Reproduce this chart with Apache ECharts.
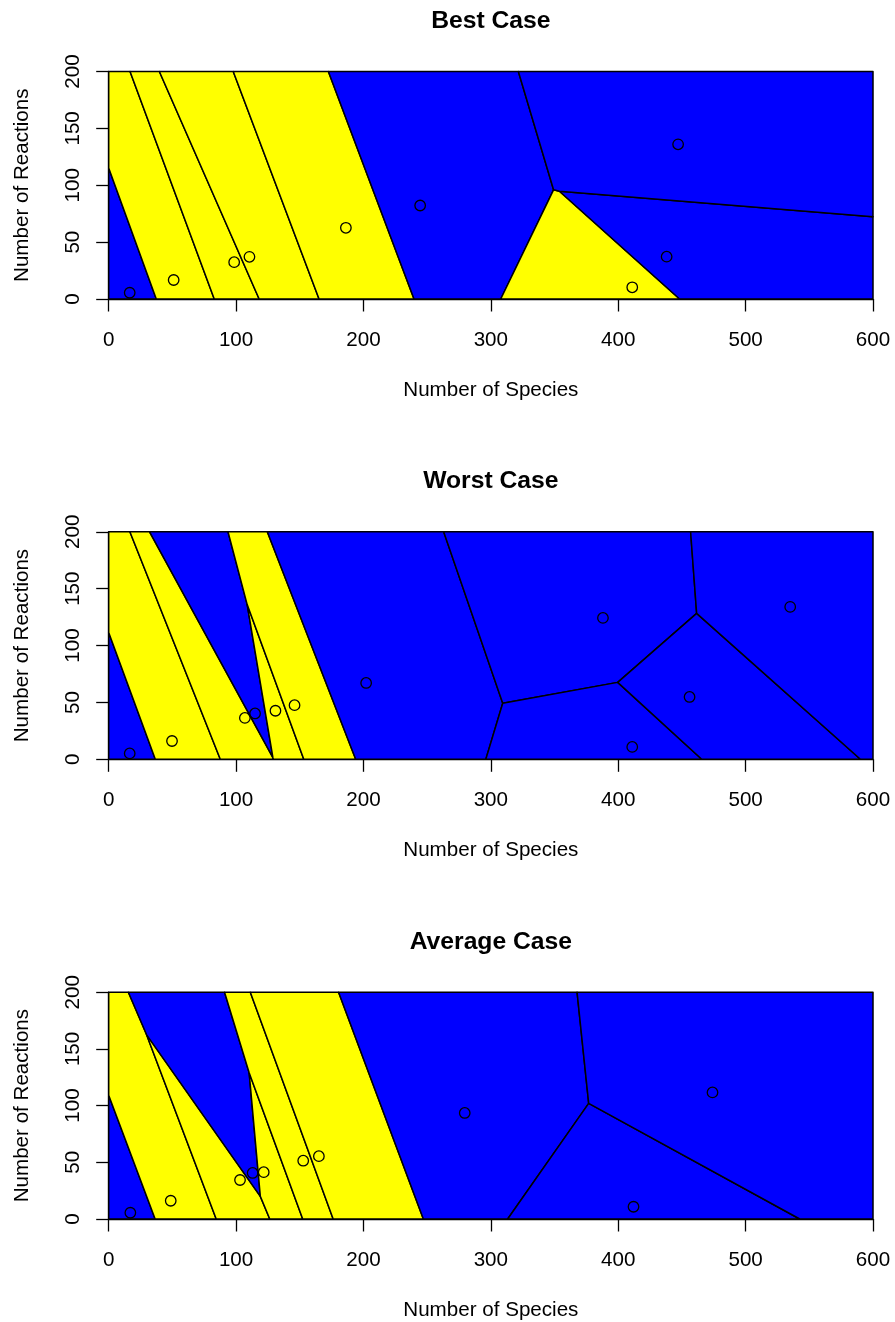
<!DOCTYPE html>
<html>
<head>
<meta charset="utf-8">
<script src="https://cdn.jsdelivr.net/npm/echarts@6/dist/echarts.min.js"></script>
<style>
  html, body { margin: 0; padding: 0; background: #ffffff; }
  #chart { width: 895px; height: 1322px; }
</style>
</head>
<body>
<div id="chart"></div>
<script>
// Titles and axis names
const panelTitles = ['Best Case', 'Worst Case', 'Average Case'];
const xTitle = 'Number of Species';
const yTitle = 'Number of Reactions';

// Axis ranges and tick steps
const speciesRange = [0, 600];
const speciesStep = 100;
const reactionsRange = [0, 200];
const reactionsStep = 50;

// Best case: model sizes and region group (1 = yellow, 0 = blue)
const bestSpecies   = [16.5, 51, 98.5, 110.5, 186.2, 244.5, 411, 438, 447];
const bestReactions = [5.5, 16.7, 32.4, 37.1, 62.6, 82.2, 10.3, 37.2, 136];
const bestGroup     = [0, 1, 1, 1, 1, 0, 1, 0, 0];

// Worst case
const worstSpecies   = [16.5, 49.7, 106.9, 114.9, 130.9, 145.9, 202.1, 388, 411, 456, 535];
const worstReactions = [5.2, 16.1, 36.4, 40.3, 42.7, 47.6, 67.1, 124.3, 10.9, 54.8, 134];
const worstGroup     = [0, 1, 1, 0, 1, 1, 0, 0, 0, 0, 0];

// Average case
const avgSpecies   = [17, 48.7, 103.1, 113, 121.7, 152.7, 165, 279.5, 412, 474];
const avgReactions = [5.5, 16.1, 34.4, 40.6, 41.3, 51.4, 55.4, 93.5, 10.8, 111.6];
const avgGroup     = [0, 1, 1, 0, 1, 1, 1, 0, 0, 0];

const groupColors = ['#0000FF', '#FFFF00'];

const panels = [
  { xs: bestSpecies,  ys: bestReactions,  group: bestGroup },
  { xs: worstSpecies, ys: worstReactions, group: worstGroup },
  { xs: avgSpecies,   ys: avgReactions,   group: avgGroup }
];

// Keep the part of a polygon where a*x + b*y <= c (Sutherland-Hodgman step)
function clipHalfPlane(poly, a, b, c) {
  const out = [];
  const n = poly.length;
  for (let k = 0; k < n; k++) {
    const P = poly[k], Q = poly[(k + 1) % n];
    const fP = a * P[0] + b * P[1] - c;
    const fQ = a * Q[0] + b * Q[1] - c;
    if (fP <= 0) out.push(P);
    if ((fP < 0 && fQ > 0) || (fP > 0 && fQ < 0)) {
      const t = fP / (fP - fQ);
      out.push([P[0] + t * (Q[0] - P[0]), P[1] + t * (Q[1] - P[1])]);
    }
  }
  return out;
}

// Voronoi cell of every site, clipped to the plotting window
function voronoiCells(xs, ys) {
  const box = [
    [speciesRange[0], reactionsRange[0]], [speciesRange[1], reactionsRange[0]],
    [speciesRange[1], reactionsRange[1]], [speciesRange[0], reactionsRange[1]]
  ];
  return xs.map((xi, i) => {
    let poly = box.slice();
    const yi = ys[i];
    xs.forEach((xj, j) => {
      if (j === i) return;
      const yj = ys[j];
      const a = xj - xi, b = yj - yi;
      const c = (xj * xj + yj * yj - xi * xi - yi * yi) / 2;
      poly = clipHalfPlane(poly, a, b, c);
    });
    return poly;
  });
}

// Page layout of the three plots (pixels)
const plotLeft = 108.7;
const plotWidth = 764.3;
const plotHeight = 227.5;
const plotTops = [71.5, 531.8, 992.2];
const titleOffset = 63;

const fontFamily = '"Liberation Sans", Arial, Helvetica, sans-serif';
const labelSize = 20.6;
const axisLine = { show: true, lineStyle: { color: '#000', width: 1.3 } };
const axisTick = { show: true, inside: false, length: 12.5, lineStyle: { color: '#000', width: 1.3 } };

const option = {
  animation: false,
  backgroundColor: '#ffffff',
  title: panelTitles.map((t, i) => ({
    text: t,
    left: plotLeft + plotWidth / 2,
    textAlign: 'center',
    top: plotTops[i] - titleOffset,
    padding: 0,
    textStyle: { fontFamily, fontSize: 24.7, fontWeight: 'bold', color: '#000' }
  })),
  grid: plotTops.map(top => ({
    left: plotLeft, top, width: plotWidth, height: plotHeight,
    show: false, containLabel: false
  })),
  xAxis: plotTops.map((_, i) => ({
    type: 'value', gridIndex: i,
    min: speciesRange[0], max: speciesRange[1], interval: speciesStep,
    splitLine: { show: false },
    axisLine, axisTick,
    axisLabel: { fontFamily, fontSize: labelSize, color: '#000', margin: 31 },
    name: xTitle, nameLocation: 'middle', nameGap: 81,
    nameTextStyle: { fontFamily, fontSize: labelSize, color: '#000' }
  })),
  yAxis: plotTops.map((_, i) => ({
    type: 'value', gridIndex: i,
    min: reactionsRange[0], max: reactionsRange[1], interval: reactionsStep,
    splitLine: { show: false },
    axisLine, axisTick,
    axisLabel: { fontFamily, fontSize: labelSize, color: '#000', rotate: 90, margin: 25 },
    name: yTitle, nameLocation: 'middle', nameGap: 76, nameRotate: 90,
    nameTextStyle: { fontFamily, fontSize: labelSize, color: '#000' }
  })),
  series: []
};

panels.forEach((p, i) => {
  const cells = voronoiCells(p.xs, p.ys);
  const sites = p.xs.map((x, k) => [x, p.ys[k]]);
  option.series.push({
    type: 'custom',
    xAxisIndex: i, yAxisIndex: i,
    silent: true,
    data: sites,
    encode: { x: 0, y: 1 },
    renderItem: (params, api) => {
      const k = params.dataIndex;
      const pts = cells[k].map(v => api.coord(v));
      return {
        type: 'polygon',
        shape: { points: pts },
        style: { fill: groupColors[p.group[k]], stroke: '#000', lineWidth: 1.5, lineJoin: 'round' }
      };
    },
    z: 2
  });
  option.series.push({
    type: 'scatter',
    xAxisIndex: i, yAxisIndex: i,
    silent: true,
    data: sites,
    symbol: 'circle',
    symbolSize: 10.5,
    itemStyle: { color: 'rgba(0,0,0,0)', borderColor: '#000', borderWidth: 1.3, opacity: 1 },
    z: 5
  });
});

const chart = echarts.init(document.getElementById('chart'), null, { renderer: 'canvas' });
chart.setOption(option);
</script>
</body>
</html>
